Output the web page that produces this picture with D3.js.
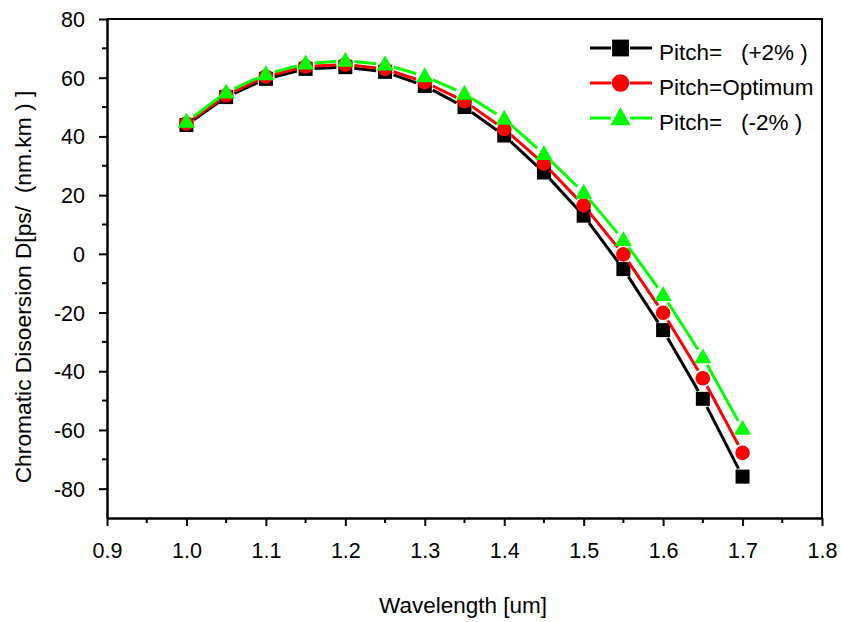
<!DOCTYPE html>
<html>
<head>
<meta charset="utf-8">
<script src="https://cdn.jsdelivr.net/npm/d3@7/dist/d3.min.js"></script>
<style>
  html, body { margin: 0; padding: 0; background: #fff; }
  svg { display: block; font-family: Arial, "Liberation Sans", sans-serif; }
</style>
</head>
<body>
<svg id="chart" width="842" height="622"></svg>
<script>
// Wavelength samples (um)
const wavelengths = [1.0, 1.05, 1.1, 1.15, 1.2, 1.25, 1.3, 1.35, 1.4, 1.45, 1.5, 1.55, 1.6, 1.65, 1.7];

// Chromatic dispersion, ps/(nm.km)
const pitchPlus2 = [43.9, 53.4, 59.6, 63.0, 63.6, 62.0, 57.2, 50.0, 40.3, 27.7, 13.0, -5.2, -26.0, -49.4, -75.9];
const pitchOptimum = [44.4, 54.0, 60.4, 63.8, 64.5, 63.0, 58.5, 52.0, 42.5, 30.7, 16.5, -0.2, -20.1, -42.4, -67.8];
const pitchMinus2 = [45.0, 55.0, 61.2, 64.8, 65.8, 64.5, 60.5, 54.5, 46.0, 34.0, 20.8, 4.7, -14.0, -35.2, -59.6];

const seriesNames = ["Pitch=   (+2% )", "Pitch=Optimum", "Pitch=   (-2% )"];
const seriesColors = ["#000000", "#ff0000", "#00ff00"];
const seriesShapes = ["square", "circle", "triangle"];

const xTicks = [0.9, 1.0, 1.1, 1.2, 1.3, 1.4, 1.5, 1.6, 1.7, 1.8];
const yTicks = [-80, -60, -40, -20, 0, 20, 40, 60, 80];

const svg = d3.select("#chart");
const plot = { left: 107, right: 822, top: 19, bottom: 518 };

const x = d3.scaleLinear().domain([0.9, 1.8]).range([plot.left, plot.right]);
const y = d3.scaleLinear().domain([-90, 80]).range([plot.bottom, plot.top]);

// frame (top and right edges)
svg.append("path")
  .attr("d", `M${plot.left},${plot.top}H${plot.right}V${plot.bottom}`)
  .attr("fill", "none").attr("stroke", "#000").attr("stroke-width", 2);

// x axis: major + minor ticks
const xAxis = d3.axisBottom(x).tickValues(xTicks).tickFormat(d3.format(".1f")).tickSize(8).tickSizeOuter(0);
const gx = svg.append("g").attr("transform", `translate(0,${plot.bottom})`).call(xAxis);
gx.selectAll(".minor").data(d3.range(0.95, 1.8, 0.1)).enter().append("line")
  .attr("x1", d => x(d)).attr("x2", d => x(d)).attr("y1", 0).attr("y2", 5)
  .attr("stroke", "#000").attr("stroke-width", 2);

// y axis: major + minor ticks (plain hyphen for negatives)
const yAxis = d3.axisLeft(y).tickValues(yTicks).tickFormat(d => String(d)).tickSize(8).tickSizeOuter(0);
const gy = svg.append("g").attr("transform", `translate(${plot.left},0)`).call(yAxis);
gy.selectAll(".minor").data(d3.range(-70, 80, 20)).enter().append("line")
  .attr("x1", 0).attr("x2", -5).attr("y1", d => y(d)).attr("y2", d => y(d))
  .attr("stroke", "#000").attr("stroke-width", 2);

[gx, gy].forEach(g => {
  g.attr("font-size", null).attr("font-family", null);
  g.select(".domain").attr("stroke", "#000").attr("stroke-width", 2.5);
  g.selectAll(".tick line").attr("stroke", "#000").attr("stroke-width", 2);
  g.selectAll(".tick text").attr("font-size", 21.5).attr("fill", "#000");
});
gx.selectAll(".tick text").attr("y", 40).attr("dy", 0);
gy.selectAll(".tick text").attr("x", -22).attr("dy", "0.35em");

// axis titles
svg.append("text").attr("x", 463).attr("y", 613).attr("text-anchor", "middle")
  .attr("font-size", 22.5).text("Wavelength [um]");
svg.append("text").attr("transform", "translate(31,287) rotate(-90)")
  .attr("text-anchor", "middle").attr("font-size", 22.8)
  .style("white-space", "pre").text("Chromatic Disoersion D[ps/  (nm.km ) ]");

// markers
function drawMarker(g, shape, color, cx, cy, s) {
  if (shape === "square") {
    const h = 7 * s;
    g.append("rect").attr("x", cx - h).attr("y", cy - h).attr("width", 2 * h).attr("height", 2 * h).attr("fill", color);
  } else if (shape === "circle") {
    g.append("circle").attr("cx", cx).attr("cy", cy).attr("r", 7.3 * s).attr("fill", color);
  } else {
    g.append("path")
      .attr("d", `M${cx},${cy - 9 * s}L${cx + 8.5 * s},${cy + 6 * s}L${cx - 8.5 * s},${cy + 6 * s}Z`)
      .attr("fill", color);
  }
}

// line segments with small gaps at the markers
function drawSeries(values, color, shape) {
  const g = svg.append("g");
  const pts = wavelengths.map((w, i) => [x(w), y(values[i])]);
  const gap = 9;
  for (let i = 0; i < pts.length - 1; i++) {
    const [x0, y0] = pts[i], [x1, y1] = pts[i + 1];
    const len = Math.hypot(x1 - x0, y1 - y0);
    if (len <= 2 * gap) continue;
    const ux = (x1 - x0) / len, uy = (y1 - y0) / len;
    g.append("line")
      .attr("x1", x0 + ux * gap).attr("y1", y0 + uy * gap)
      .attr("x2", x1 - ux * gap).attr("y2", y1 - uy * gap)
      .attr("stroke", color).attr("stroke-width", 3);
  }
  pts.forEach(([px, py]) => drawMarker(g, shape, color, px, py, 1));
}

drawSeries(pitchPlus2, seriesColors[0], seriesShapes[0]);
drawSeries(pitchOptimum, seriesColors[1], seriesShapes[1]);
drawSeries(pitchMinus2, seriesColors[2], seriesShapes[2]);

// legend
const legend = svg.append("g");
seriesNames.forEach((name, i) => {
  const ly = 48 + i * 35;
  const g = legend.append("g");
  g.append("line").attr("x1", 590).attr("x2", 611).attr("y1", ly).attr("y2", ly)
    .attr("stroke", seriesColors[i]).attr("stroke-width", 3);
  g.append("line").attr("x1", 630).attr("x2", 652).attr("y1", ly).attr("y2", ly)
    .attr("stroke", seriesColors[i]).attr("stroke-width", 3);
  drawMarker(g, seriesShapes[i], seriesColors[i], 620.5, ly, 1.2);
  g.append("text").attr("x", 659).attr("y", ly + 11.5).attr("font-size", 22.5)
    .style("white-space", "pre").text(name);
});
</script>
</body>
</html>
